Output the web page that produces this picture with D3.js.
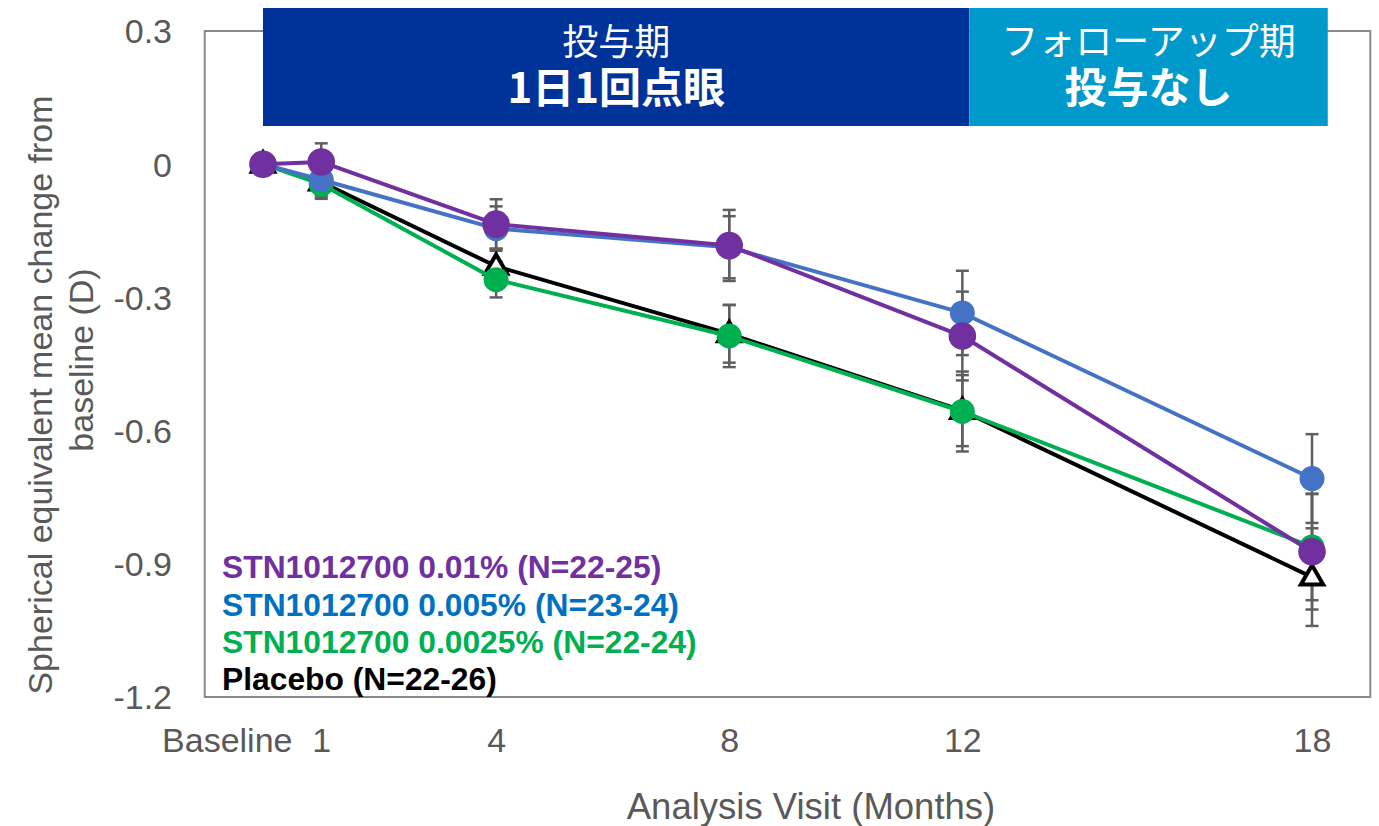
<!DOCTYPE html>
<html>
<head>
<meta charset="utf-8">
<script src="https://cdn.jsdelivr.net/npm/d3@7"></script>
<style>
  body { margin: 0; background: #fff; }
  svg { display: block; }
</style>
</head>
<body>
<svg id="chart" width="1379" height="826"></svg>
<script>
// Visits (months) and their axis labels
const months = [0, 1, 4, 8, 12, 18];
const xTickLabels = ["Baseline", "1", "4", "8", "12", "18"];
const yTicks = [0.3, 0, -0.3, -0.6, -0.9, -1.2];
const yTickLabels = ["0.3", "0", "-0.3", "-0.6", "-0.9", "-1.2"];

// Mean change from baseline (D) and error half-widths per visit
const placeboMean = [0, -0.04, -0.23, -0.382, -0.555, -0.93];
const placeboErr  = [0, 0.035, 0.04, 0.065, 0.08, 0.11];
const dose0025Mean = [0, -0.045, -0.26, -0.387, -0.557, -0.862];
const dose0025Err  = [0, 0.033, 0.04, 0.07, 0.09, 0.12];
const dose005Mean = [0, -0.035, -0.145, -0.187, -0.335, -0.708];
const dose005Err  = [0, 0.035, 0.05, 0.07, 0.095, 0.10];
const dose01Mean = [0, 0.005, -0.135, -0.183, -0.387, -0.873];
const dose01Err  = [0, 0.042, 0.056, 0.08, 0.10, 0.13];

// Legend entries (top to bottom)
const legendLabels = [
  "STN1012700 0.01% (N=22-25)",
  "STN1012700 0.005% (N=23-24)",
  "STN1012700 0.0025% (N=22-24)",
  "Placebo (N=22-26)"
];

// Study phases shown in the banner (month spans)
const phaseTitles = ["投与期", "フォローアップ期"];
const phaseSubtitles = ["1日1回点眼", "投与なし"];
const phaseStart = [0, 12.12];
const phaseEnd = [12.12, 18.27];

const svg = d3.select("#chart");
const latin = "'Liberation Sans', Arial, sans-serif";
const cjk = "'Noto Sans CJK JP', sans-serif";
const axisGray = "#595959";

const x = d3.scaleLinear().domain([-1, 19]).range([204.7, 1370.3]);
const y = d3.scaleLinear().domain([-1.2, 0.3]).range([697, 31]);

// Plot frame
svg.append("rect")
  .attr("x", x(-1)).attr("y", y(0.3))
  .attr("width", x(19) - x(-1)).attr("height", y(-1.2) - y(0.3))
  .attr("fill", "none").attr("stroke", "#8a8a8a").attr("stroke-width", 2);

// Y axis labels
const yAxis = d3.axisLeft(y).tickValues(yTicks).tickSize(0).tickPadding(0)
  .tickFormat((d, i) => yTickLabels[i]);
const gy = svg.append("g").attr("transform", `translate(172,0)`).call(yAxis);
gy.select(".domain").remove();
gy.selectAll("text").attr("font-family", latin).attr("font-size", 34)
  .attr("fill", axisGray).attr("dy", "0.35em");

// X axis labels
const xAxis = d3.axisBottom(x).tickValues(months).tickSize(0).tickPadding(0)
  .tickFormat((d, i) => xTickLabels[i]);
const gx = svg.append("g").attr("transform", `translate(0,728)`).call(xAxis);
gx.select(".domain").remove();
gx.selectAll("text").attr("font-family", latin).attr("font-size", 34)
  .attr("fill", axisGray).attr("dy", "0.71em");
gx.selectAll(".tick").filter(d => d === 0).select("text")
  .attr("text-anchor", "end").attr("x", 29);

// Axis titles
svg.append("text")
  .attr("x", 811).attr("y", 819)
  .attr("text-anchor", "middle")
  .attr("font-family", latin).attr("font-size", 36.5).attr("fill", axisGray)
  .text("Analysis Visit (Months)");

svg.append("text")
  .attr("transform", "translate(52,395) rotate(-90)")
  .attr("text-anchor", "middle")
  .attr("font-family", latin).attr("font-size", 34).attr("fill", axisGray)
  .text("Spherical equivalent mean change from");
svg.append("text")
  .attr("transform", "translate(93,360) rotate(-90)")
  .attr("text-anchor", "middle")
  .attr("font-family", latin).attr("font-size", 34).attr("fill", axisGray)
  .text("baseline (D)");

// Phase banner: one two-line label per phase
const phaseFill = ["#003399", "#0099CC"];
phaseTitles.forEach((t, i) => {
  const x0 = x(phaseStart[i]), x1 = x(phaseEnd[i]);
  const cx = (x0 + x1) / 2;
  svg.append("rect").attr("x", x0).attr("y", 8)
    .attr("width", x1 - x0).attr("height", 118).attr("fill", phaseFill[i]);
  const label = svg.append("text")
    .attr("text-anchor", "middle").attr("font-family", cjk).attr("fill", "#fff");
  label.append("tspan").attr("x", cx).attr("y", 55)
    .attr("font-size", i === 0 ? 36 : 37).text(t);
  label.append("tspan").attr("x", cx).attr("y", 103)
    .attr("font-size", 42).attr("font-weight", "bold")
    .text(phaseSubtitles[i]);
});

// Series, drawn bottom to top
const series = [
  { mean: placeboMean, err: placeboErr, color: "#000000", marker: "triangle" },
  { mean: dose0025Mean, err: dose0025Err, color: "#00B050", marker: "circle", r: 12.5 },
  { mean: dose005Mean, err: dose005Err, color: "#4472C4", marker: "circle", r: 12.5 },
  { mean: dose01Mean, err: dose01Err, color: "#7030A0", marker: "circle", r: 13.8 }
];

// Error bars beneath all lines and markers
const errG = svg.append("g").attr("stroke", "#5f5f5f").attr("stroke-width", 2.5);
series.forEach(s => {
  months.forEach((m, i) => {
    const e = s.err[i];
    if (!e) return;
    const cx = x(m), yt = y(s.mean[i] + e), yb = y(s.mean[i] - e);
    errG.append("line").attr("x1", cx).attr("x2", cx).attr("y1", yt).attr("y2", yb);
    errG.append("line").attr("x1", cx - 6.5).attr("x2", cx + 6.5).attr("y1", yt).attr("y2", yt);
    errG.append("line").attr("x1", cx - 6.5).attr("x2", cx + 6.5).attr("y1", yb).attr("y2", yb);
  });
});

const line = d3.line().x(d => x(d[0])).y(d => y(d[1]));
const tri = d3.symbol().type(d3.symbolTriangle).size(215);

series.forEach(s => {
  const pts = months.map((m, i) => [m, s.mean[i]]);
  svg.append("path").datum(pts).attr("d", line)
    .attr("fill", "none").attr("stroke", s.color).attr("stroke-width", 4)
    .attr("stroke-linejoin", "round");
  if (s.marker === "circle") {
    svg.append("g").selectAll("circle").data(pts).join("circle")
      .attr("cx", d => x(d[0])).attr("cy", d => y(d[1])).attr("r", s.r)
      .attr("fill", s.color);
  } else {
    svg.append("g").selectAll("path").data(pts).join("path")
      .attr("d", tri)
      .attr("transform", d => `translate(${x(d[0])},${y(d[1]) + 1})`)
      .attr("fill", "#fff").attr("stroke", s.color).attr("stroke-width", 4)
      .attr("stroke-linejoin", "miter");
  }
});

// Legend
const legendColors = ["#7030A0", "#0070C0", "#00B050", "#000000"];
const legendBaselines = [578, 616, 653, 690];
legendLabels.forEach((t, i) => {
  svg.append("text").attr("x", 222).attr("y", legendBaselines[i])
    .attr("font-family", latin).attr("font-size", 31.8).attr("font-weight", "bold")
    .attr("fill", legendColors[i]).text(t);
});
</script>
</body>
</html>
